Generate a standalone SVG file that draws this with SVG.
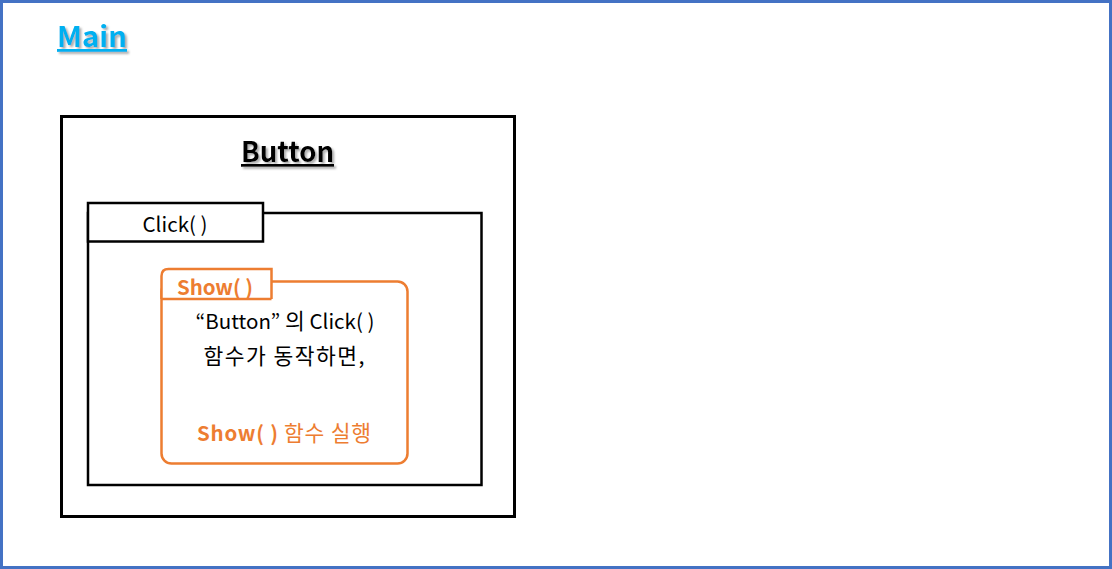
<svg xmlns="http://www.w3.org/2000/svg" width="1112" height="569" viewBox="0 0 1112 569">
<style>
.t{font-family:"Noto Sans CJK KR","Noto Sans",sans-serif;font-size:20.5px;fill:#000;text-anchor:middle}
.k{font-size:21.5px}
.o{fill:#ED7D31}
.b{font-weight:bold}
.box{fill:none;stroke:#000;stroke-width:3}
.obox{fill:#fff;stroke:#ED7D31;stroke-width:2.5}
</style>
<defs>
<filter id="sh" x="-10%" y="-10%" width="130%" height="140%">
<feDropShadow dx="2" dy="2" stdDeviation="1" flood-color="#888" flood-opacity="0.7"/>
</filter>
</defs>
<rect x="1.5" y="1.5" width="1109" height="566" fill="#fff" stroke="#4472C4" stroke-width="3"/>
<g id="main-title">
<text x="57" y="47" textLength="70" lengthAdjust="spacingAndGlyphs" font-family="'Noto Sans CJK KR','Noto Sans',sans-serif" font-size="28.5" font-weight="bold" fill="#00B0F0" text-decoration="underline" filter="url(#sh)">Main</text>
</g>
<g id="button">
<rect class="box" x="61.5" y="116.5" width="453" height="400"/>
<text x="241" y="162" textLength="93" lengthAdjust="spacingAndGlyphs" font-family="'Noto Sans CJK KR','Noto Sans',sans-serif" font-size="27.5" font-weight="bold" fill="#000" text-decoration="underline" filter="url(#sh)">Button</text>
</g>
<g id="click">
<rect class="box" x="88" y="213" width="393.5" height="272" style="stroke-width:2.5"/>
<rect x="88" y="203" width="175" height="38.5" fill="#fff" stroke="#000" stroke-width="2.5"/>
<text class="t" x="175" y="232" textLength="65" lengthAdjust="spacing">Click( )</text>
</g>
<g id="show">
<rect class="obox" x="161.5" y="281.5" width="246" height="182" rx="10"/>
<path d="M161.5 299 V276 Q161.5 269 168.5 269 H271.5 V299" fill="#fff" stroke="#ED7D31" stroke-width="2.5"/>
<line x1="161.5" y1="299" x2="271.5" y2="299" stroke="#ED7D31" stroke-width="2.5"/>
<text class="t o b" x="215" y="295" textLength="76" lengthAdjust="spacing">Show( )</text>
<text class="t" x="285" y="329" textLength="179" lengthAdjust="spacing">“Button” <tspan class="k">의</tspan> Click( )</text>
<text class="t k" x="284" y="364" textLength="161" lengthAdjust="spacing">함수가 동작하면,</text>
<text class="t o" x="284" y="441" textLength="174" lengthAdjust="spacing"><tspan class="b">Show( )</tspan> <tspan class="k">함수 실행</tspan></text>
</g>
<g id="connectors"/>
</svg>
